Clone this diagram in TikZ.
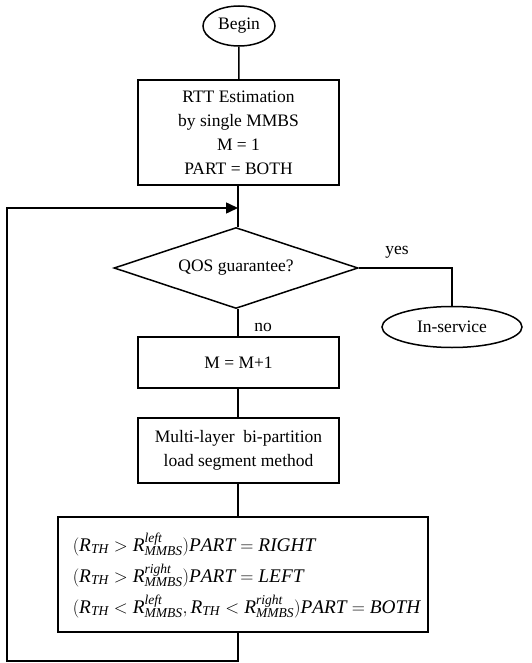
\documentclass[tikz,border=0pt]{standalone}
\usepackage{fontspec}
\setmainfont{Liberation Serif}
\usetikzlibrary{shapes.geometric,arrows.meta}
\begin{document}
\begin{tikzpicture}[x=1pt,y=-1pt,
  line width=1.5pt,
  txt/.style={font=\fontsize{17.5}{24}\selectfont},
  procbox/.style={draw,txt,align=center,inner sep=0pt,minimum width=201pt},
  term/.style={draw,ellipse,txt,inner sep=0pt},
  decide/.style={draw,diamond,txt,inner sep=0pt,aspect=3,minimum width=244pt,minimum height=81pt},
  lbl/.style={txt,inner sep=0pt},
  flow/.style={line width=1.5pt}
]
\useasboundingbox (0,0) rectangle (531,663);
\node[term,minimum width=72pt,minimum height=40pt] (begin) at (239,26) {Begin};
\node[procbox,minimum height=105pt] (rtt) at (238.5,132.5) {RTT Estimation\\by single MMBS\\M = 1\\PART = BOTH};
\node[decide] (dia) at (236,268) {QOS guarantee?};
\node[term,minimum width=140pt,minimum height=41pt] (ins) at (452,327) {In-service};
\node[procbox,minimum height=51pt] (m1) at (238.5,362.5) {M = M+1};
\node[procbox,minimum height=65pt] (ml) at (238.5,450.5) {Multi-layer\ \ bi-partition\\load segment method};
\node[draw,inner sep=0pt,minimum width=370pt,minimum height=115pt] (form) at (243,574.5) {};
\node[anchor=west,inner sep=0pt] (ftxt) at (72,576) {\scalebox{1.055}{%
\fontsize{18.3}{29.4}\selectfont
\begin{tabular}{@{}l@{}}
$(\mathit{R}_{\mathit{TH}} > \mathit{R}^{\mathit{left}}_{\mathit{MMBS}})\mathit{PART} = \mathit{RIGHT}$\\
$(\mathit{R}_{\mathit{TH}} > \mathit{R}^{\mathit{right}}_{\mathit{MMBS}})\mathit{PART} = \mathit{LEFT}$\\
$(\mathit{R}_{\mathit{TH}} < \mathit{R}^{\mathit{left}}_{\mathit{MMBS}}, \mathit{R}_{\mathit{TH}} < \mathit{R}^{\mathit{right}}_{\mathit{MMBS}})\mathit{PART} = \mathit{BOTH}$
\end{tabular}}};
\node[lbl] (yes) at (397,252) {yes};
\node[lbl] (no) at (263,327) {no};
\coordinate (j) at (238,208);
\coordinate (loopbl) at (7,661);
\draw[flow] (begin) -- (rtt);
\draw[flow] (rtt.south -| j) -- (dia.north -| j);
\draw[flow] (dia.south -| j) -- (m1.north -| j);
\draw[flow] (m1.south -| j) -- (ml.north -| j);
\draw[flow] (ml.south -| j) -- (form.north -| j);
\draw[flow] (dia.east) -| (ins.north);
\draw[flow,-{Triangle[length=12pt,width=11pt]}] (form.south -| j) |- (loopbl) |- (j);
\end{tikzpicture}
\end{document}
